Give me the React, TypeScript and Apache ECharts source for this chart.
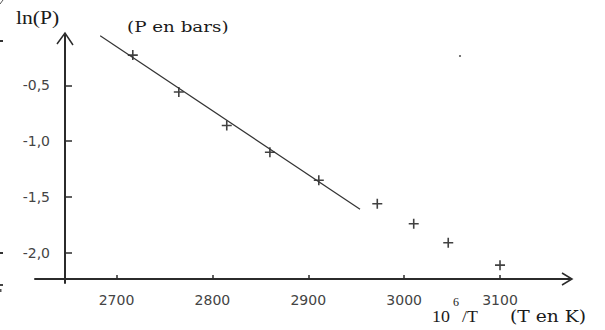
import React, { useEffect, useRef } from "react";
import * as echarts from "echarts";

// Measured points: 10^6/T (T in K) against ln(P) (P in bar)
const invT = [2717, 2765, 2815, 2860, 2911, 2972, 3010, 3046, 3100];
const lnP = [-0.23, -0.56, -0.86, -1.1, -1.35, -1.56, -1.74, -1.91, -2.11];

// Straight line drawn through the low-temperature part
const fitX = [2683, 2954];
const fitY = [-0.056, -1.61];

const xTicks = [2700, 2800, 2900, 3000, 3100];
const yTicks = [-2.0, -1.5, -1.0, -0.5];

const X_MIN = 2615;
const X_MAX = 3173;
const Y_MIN = -2.27;
const Y_MAX = -0.05;

const W = 605;
const H = 330;
const GRID = { left: 35, right: 35, top: 35, bottom: 47 };
const Y_AXIS_SHIFT = 30; // vertical axis sits this far right of the grid's left edge
const X_AXIS_LIFT = 4; // horizontal axis sits this far above the grid's bottom edge

const INK = "#2b2b2b";
const SERIF = "Liberation Serif";
const WIDE_SERIF = "DejaVu Serif";

const PLUS = "path://M4.2,0H5.8V4.2H10V5.8H5.8V10H4.2V5.8H0V4.2H4.2Z";

export default function App() {
  const ref = useRef<HTMLDivElement>(null);

  useEffect(() => {
    if (!ref.current) return;
    const chart = echarts.init(ref.current, undefined, { renderer: "svg" });

    const yAxisX = GRID.left + Y_AXIS_SHIFT;
    const xAxisY = H - GRID.bottom - X_AXIS_LIFT;
    const xEnd = W - GRID.right;
    const yTop = GRID.top;

    const label = (
      text: string,
      x: number,
      y: number,
      size: number,
      sx: number,
      family: string = SERIF
    ) => ({
      type: "text",
      x,
      y,
      scaleX: sx,
      style: {
        text,
        fontSize: size,
        fontFamily: family,
        fontWeight: "normal",
        fill: "#1a1a1a",
        align: "left",
        verticalAlign: "middle",
      },
    });

    chart.setOption({
      animation: false,
      backgroundColor: "#ffffff",
      grid: { ...GRID, containLabel: false },
      xAxis: {
        type: "value",
        min: X_MIN,
        max: X_MAX,
        offset: -X_AXIS_LIFT,
        splitLine: { show: false },
        axisLine: { show: true, onZero: false, lineStyle: { color: INK, width: 2 } },
        axisTick: {
          show: true,
          inside: true,
          length: 4,
          customValues: xTicks,
          lineStyle: { color: INK, width: 1.5 },
        },
        axisLabel: {
          customValues: xTicks,
          margin: 14,
          color: "#444",
          fontSize: 14,
          fontFamily: "DejaVu Sans",
          formatter: (v: number) => String(v),
        },
      },
      yAxis: {
        type: "value",
        min: Y_MIN,
        max: Y_MAX,
        offset: -Y_AXIS_SHIFT,
        splitLine: { show: false },
        axisLine: { show: true, onZero: false, lineStyle: { color: INK, width: 2 } },
        axisTick: {
          show: true,
          inside: true,
          length: 7,
          customValues: yTicks,
          lineStyle: { color: INK, width: 1.5 },
        },
        axisLabel: {
          customValues: yTicks,
          margin: 15,
          color: "#444",
          fontSize: 14,
          fontFamily: "DejaVu Sans",
          formatter: (v: number) => v.toFixed(1).replace(".", ","),
        },
      },
      series: [
        {
          type: "line",
          data: fitX.map((x, i) => [x, fitY[i]]),
          symbol: "none",
          lineStyle: { color: "#333", width: 1.2 },
          silent: true,
        },
        {
          type: "scatter",
          data: invT.map((x, i) => [x, lnP[i]]),
          symbol: PLUS,
          symbolSize: 10,
          itemStyle: { color: "#111" },
          silent: true,
        },
      ],
      graphic: [
        // open arrow heads at the ends of both axes
        {
          type: "polyline",
          shape: { points: [[yAxisX - 8, yTop + 9], [yAxisX, yTop - 2], [yAxisX + 8, yTop + 10]] },
          style: { stroke: INK, lineWidth: 1.5, fill: "none" },
        },
        {
          type: "polyline",
          shape: { points: [[xEnd - 8, xAxisY - 6], [xEnd + 2, xAxisY], [xEnd - 8, xAxisY + 6]] },
          style: { stroke: INK, lineWidth: 1.5, fill: "none" },
        },
        label("ln(P)", 16, 18, 18, 1.2),
        label("(P en bars)", 127, 27, 15, 1.22, WIDE_SERIF),
        label("10", 432, 316, 17, 1.05),
        label("6", 453, 302, 12, 1.0),
        label("/T", 462, 316, 17, 1.05),
        label("(T en K)", 510, 316, 16, 1.17, WIDE_SERIF),
        // small specks along the page edge and in the plot area
        { type: "circle", shape: { cx: 460, cy: 56, r: 1.1 }, style: { fill: "#666" } },
        { type: "rect", shape: { x: 0, y: 40, width: 3, height: 2 }, style: { fill: "#333" } },
        { type: "rect", shape: { x: 0, y: 252, width: 3, height: 2 }, style: { fill: "#333" } },
        { type: "rect", shape: { x: 0, y: 284, width: 3, height: 2 }, style: { fill: "#444" } },
        { type: "rect", shape: { x: 0, y: 289, width: 1.5, height: 3 }, style: { fill: "#555" } },
        {
          type: "line",
          shape: { x1: 0, y1: 4, x2: 3, y2: 0 },
          style: { stroke: "#555", lineWidth: 1 },
        },
      ],
    });

    return () => chart.dispose();
  }, []);

  return (
    <div
      ref={ref}
      style={{ position: "fixed", left: 0, top: 0, width: W, height: H, background: "#fff" }}
    />
  );
}
